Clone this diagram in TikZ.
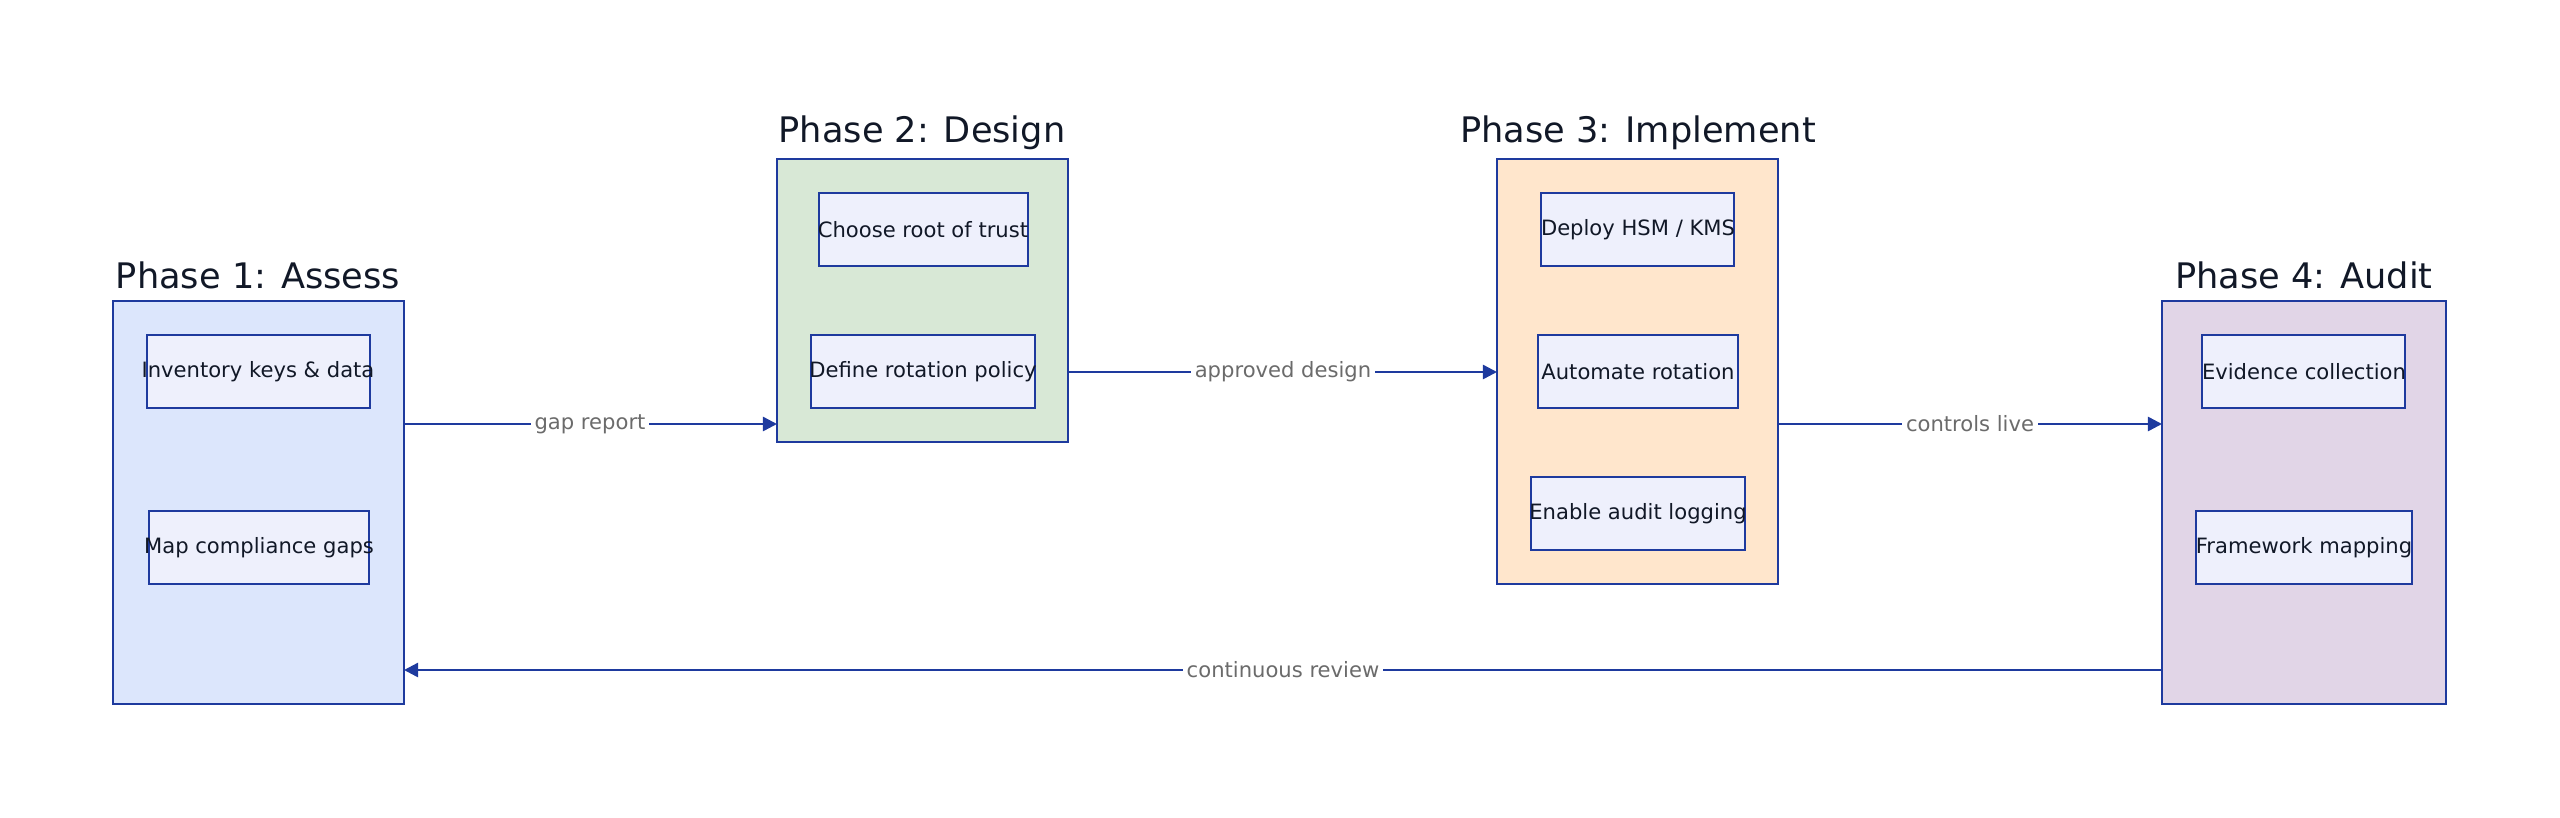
\documentclass[tikz,border=0pt]{standalone}
\usepackage{fontspec}
\setmainfont{DejaVu Sans}
\usetikzlibrary{arrows.meta}
\definecolor{bd}{HTML}{1E3A9E}
\definecolor{fa}{HTML}{DCE6FC}
\definecolor{fb}{HTML}{D8E8D6}
\definecolor{fc}{HTML}{FFE6CC}
\definecolor{fd}{HTML}{E1D5E7}
\definecolor{fi}{HTML}{EEF0FC}
\definecolor{tx}{HTML}{111827}
\definecolor{lb}{HTML}{6B6B6B}
\begin{document}
\begin{tikzpicture}[x=0.01cm,y=-0.01cm,
 phase/.style={draw=bd,line width=0.6pt},
 inner/.style={draw=bd,line width=0.7pt,fill=fi},
 itxt/.style={font=\fontsize{6}{7}\selectfont,text=tx},
 ttl/.style={font=\fontsize{10}{12}\selectfont,text=tx},
 arr/.style={draw=bd,line width=0.7pt,-{Triangle[length=4pt,width=4pt]}},
 lab/.style={font=\fontsize{6}{7}\selectfont,text=lb,fill=white,inner sep=1pt}]
\useasboundingbox (0,0) rectangle (2560,818);
% phases
\draw[phase,fill=fa] (113,301) rectangle (404,704); \coordinate (p1) at (258,502);
\draw[phase,fill=fb] (777,159) rectangle (1068,442);
\draw[phase,fill=fc] (1497,159) rectangle (1778,584);
\draw[phase,fill=fd] (2162,301) rectangle (2446,704);
\node[ttl] (t1) at (258,275) {Phase 1: Assess};
\node[ttl] (t2) at (922,133) {Phase 2: Design};
\node[ttl] (t3) at (1638,133) {Phase 3: Implement};
\node[ttl] (t4) at (2304,275) {Phase 4: Audit};
% inner
\draw[inner] (147,335) rectangle (370,408); \node[itxt] (a1) at (258,372) {Inventory keys \& data};
\draw[inner] (149,511) rectangle (369,584); \node[itxt] (a2) at (259,548) {Map compliance gaps};
\draw[inner] (819,193) rectangle (1028,266); \node[itxt] (b1) at (923,230) {Choose root of trust};
\draw[inner] (811,335) rectangle (1035,408); \node[itxt] (b2) at (923,372) {Define rotation policy};
\draw[inner] (1541,193) rectangle (1734,266); \node[itxt] (c1) at (1638,230) {Deploy HSM / KMS};
\draw[inner] (1538,335) rectangle (1738,408); \node[itxt] (c2) at (1638,372) {Automate rotation};
\draw[inner] (1531,477) rectangle (1745,550); \node[itxt] (c3) at (1638,514) {Enable audit logging};
\draw[inner] (2202,335) rectangle (2405,408); \node[itxt] (d1) at (2304,372) {Evidence collection};
\draw[inner] (2196,511) rectangle (2412,584); \node[itxt] (d2) at (2304,548) {Framework mapping};
% arrows
\coordinate (e1s) at (404,424); \coordinate (e1e) at (777,424);
\coordinate (e2s) at (1068,372); \coordinate (e2e) at (1497,372);
\coordinate (e3s) at (1778,424); \coordinate (e3e) at (2162,424);
\coordinate (e4s) at (2162,670); \coordinate (e4e) at (404,670);
\draw[arr] (e1s) -- (e1e); \node[lab] (l1) at (590,424) {gap report};
\draw[arr] (e2s) -- (e2e); \node[lab] (l2) at (1283,372) {approved design};
\draw[arr] (e3s) -- (e3e); \node[lab] (l3) at (1970,424) {controls live};
\draw[arr] (e4s) -- (e4e); \node[lab] (l4) at (1283,670) {continuous review};
\end{tikzpicture}
\end{document}
